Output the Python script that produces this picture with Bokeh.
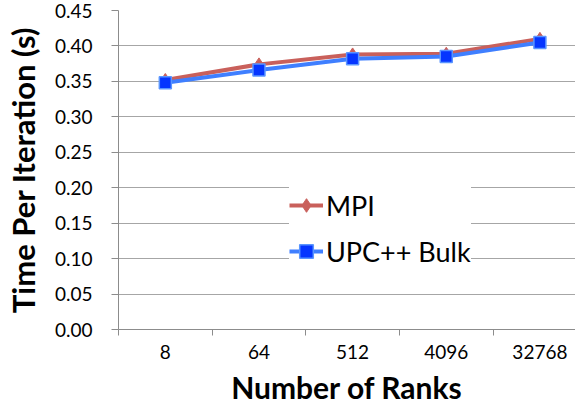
from bokeh.plotting import figure
from bokeh.models import (Range1d, FixedTicker, NumeralTickFormatter, Legend,
                          LegendItem, ColumnDataSource)
from bokeh.embed import file_html
from bokeh.resources import INLINE

# ---- data ----
ranks = ["8", "64", "512", "4096", "32768"]
mpi = [0.352, 0.374, 0.388, 0.389, 0.410]
upc_bulk = [0.348, 0.366, 0.382, 0.385, 0.405]
y_ticks = [0.00, 0.05, 0.10, 0.15, 0.20, 0.25, 0.30, 0.35, 0.40, 0.45]

FONT = "Lato"

xc = [i + 0.5 for i in range(len(ranks))]
src = ColumnDataSource(dict(x=xc, mpi=mpi, upc=upc_bulk))

p = figure(width=575, height=407, output_backend="svg", toolbar_location=None,
           x_range=Range1d(0, 4.88), y_range=Range1d(0, 0.45),
           min_border_left=114, min_border_right=0, min_border_top=10,
           min_border_bottom=76)
p.outline_line_color = None
p.background_fill_color = "white"
p.border_fill_color = "white"

# grid
p.xgrid.grid_line_color = None
p.ygrid.grid_line_color = "#A6A6A6"
p.ygrid.grid_line_width = 1

# x axis: labels at category centres, tick marks at boundaries
xa = p.xaxis[0]
xa.ticker = FixedTicker(ticks=xc, minor_ticks=list(range(len(ranks) + 1)))
xa.major_label_overrides = {x: r for x, r in zip(xc, ranks)}
xa.major_tick_in = 0
xa.major_tick_out = 0
xa.minor_tick_in = 0
xa.minor_tick_out = 6
xa.minor_tick_line_color = "#8C8C8C"
xa.axis_line_color = "#8C8C8C"
xa.major_label_text_font = FONT
xa.major_label_text_font_size = "19px"
xa.major_label_text_color = "black"
xa.major_label_standoff = 9
xa.axis_label = "Number of Ranks"
xa.axis_label_text_font = FONT
xa.axis_label_text_font_style = "bold"
xa.axis_label_text_font_size = "30px"
xa.axis_label_text_color = "black"
xa.axis_label_text_line_height = 0.9
xa.axis_label_standoff = 7

ya = p.yaxis[0]
ya.ticker = FixedTicker(ticks=y_ticks)
ya.formatter = NumeralTickFormatter(format="0.00")
ya.major_tick_in = 0
ya.major_tick_out = 7
ya.minor_tick_line_color = None
ya.minor_tick_out = 0
ya.minor_tick_in = 0
ya.major_tick_line_color = "#8C8C8C"
ya.axis_line_color = "#8C8C8C"
ya.major_label_text_font = FONT
ya.major_label_text_font_size = "19px"
ya.major_label_text_color = "black"
ya.major_label_standoff = 19
ya.axis_label = "Time Per Iteration (s)"
ya.axis_label_text_font = FONT
ya.axis_label_text_font_style = "bold"
ya.axis_label_text_font_size = "31px"
ya.axis_label_text_color = "black"
ya.axis_label_standoff = 10

# series
MPI_C = "#C9605B"
l1 = p.line("x", "mpi", source=src, line_color=MPI_C, line_width=4)
m1 = p.scatter("x", "mpi", source=src, marker="diamond", size=13,
               fill_color=MPI_C, line_color=MPI_C)
l2 = p.line("x", "upc", source=src, line_color="#3F7FFF", line_width=4)
m2 = p.scatter("x", "upc", source=src, marker="square", size=12,
               fill_color="#0535FF", line_color="#5A95FF", line_width=1.5)

legend = Legend(items=[LegendItem(label="MPI", renderers=[l1, m1]),
                       LegendItem(label="UPC++ Bulk", renderers=[l2, m2])],
                location=(171, 58))
legend.label_text_font = FONT
legend.label_text_font_size = "27px"
legend.label_text_color = "black"
legend.glyph_width = 34
legend.glyph_height = 40
legend.label_height = 40
legend.spacing = 6
legend.padding = 8
legend.margin = 0
legend.label_standoff = 3
legend.border_line_color = None
legend.background_fill_color = "white"
legend.background_fill_alpha = 1
p.add_layout(legend, "center")

open("out.html", "w").write(file_html(p, INLINE))
